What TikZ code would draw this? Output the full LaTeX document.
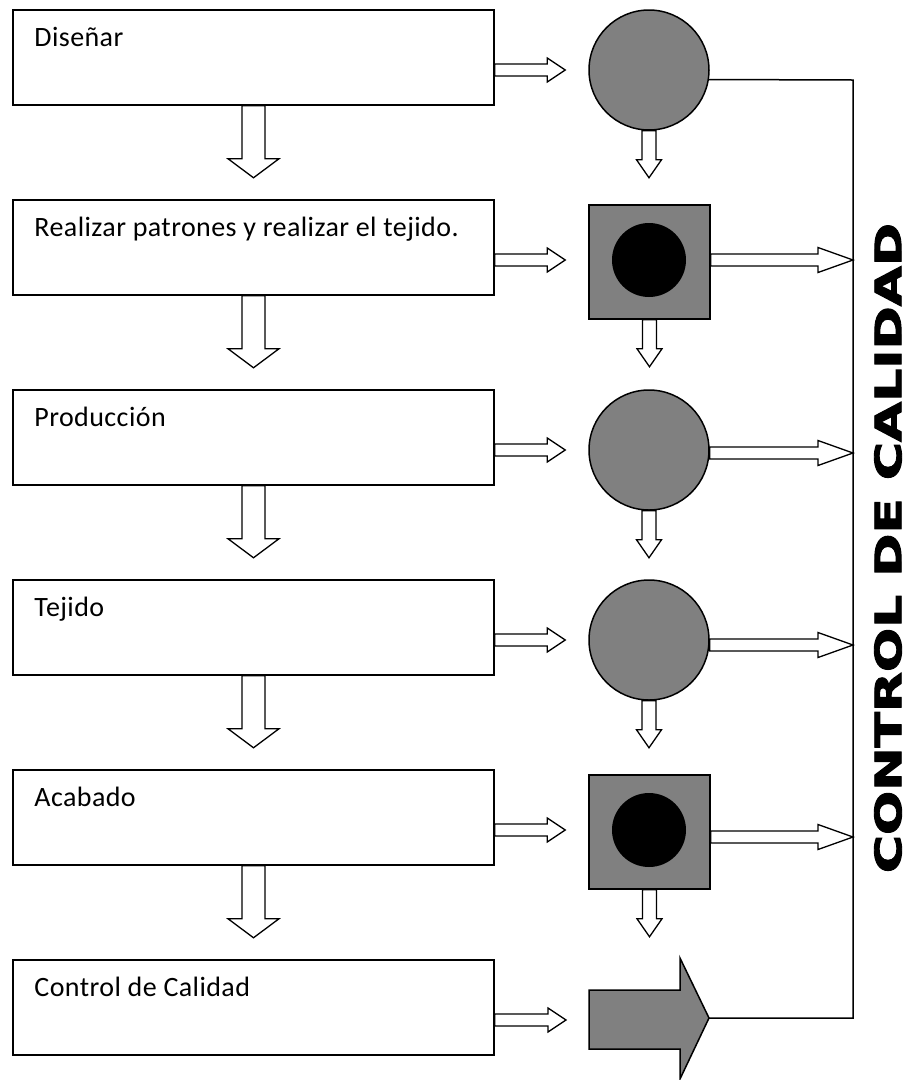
\documentclass[tikz,border=0pt]{standalone}
\usepackage{graphicx}
\usepackage{fontspec}
\setmainfont{Carlito}
\newfontfamily\boxfont[LetterSpace=1.5]{Carlito}
\newfontfamily\headfont[FakeBold=2.5]{DejaVu Sans Bold}
\usepackage{xcolor}
\definecolor{mygray}{RGB}{128,128,128}
\usetikzlibrary{calc}

% block arrows: #1 start, #2 tip, #3 half shaft, #4 half head, #5 head length
\newcommand{\hblock}[5]{%
  \draw[blk] let \p1=(#1), \p2=(#2) in
    ({\x1},{\y1+#3}) -- ({\x2-#5},{\y1+#3}) -- ({\x2-#5},{\y1+#4}) -- ({\x2},{\y1})
    -- ({\x2-#5},{\y1-#4}) -- ({\x2-#5},{\y1-#3}) -- ({\x1},{\y1-#3}) -- cycle;}
\newcommand{\vblock}[5]{%
  \draw[blk] let \p1=(#1), \p2=(#2) in
    ({\x1-#3},{\y1}) -- ({\x1-#3},{\y2+#5}) -- ({\x1-#4},{\y2+#5}) -- ({\x1},{\y2})
    -- ({\x1+#4},{\y2+#5}) -- ({\x1+#3},{\y2+#5}) -- ({\x1+#3},{\y1}) -- cycle;}

\begin{document}
\begin{tikzpicture}[x=1pt,y=-1pt,line join=miter]
	\tikzstyle{procbox}=[draw,line width=1.5pt,minimum width=481pt,minimum height=95pt,inner sep=0pt];
	\tikzstyle{proctext}=[anchor=base west,inner sep=0pt,font=\boxfont\fontsize{28}{33}\selectfont];
	\tikzstyle{dot}=[circle,draw,line width=1.5pt,fill=mygray,minimum size=120pt,inner sep=0pt];
	\tikzstyle{sq}=[draw,line width=1.5pt,fill=mygray,minimum width=121pt,minimum height=114pt,inner sep=0pt];
	\tikzstyle{core}=[circle,fill=black,minimum size=74pt,inner sep=0pt];
	\tikzstyle{blk}=[draw,fill=white,line width=1.3pt];
	\useasboundingbox (0,0) rectangle (909,1080);
	% process boxes
	\node[procbox] (b1) at (253.5,57.5)   {};
	\node[procbox] (b2) at (253.5,247.5)  {};
	\node[procbox] (b3) at (253.5,437.5)  {};
	\node[procbox] (b4) at (253.5,627.5)  {};
	\node[procbox] (b5) at (253.5,817.5)  {};
	\node[procbox] (b6) at (253.5,1007.5) {};
	\node[proctext] (t1) at ($(b1.north west)+(22,37)$) {Diseñar};
	\node[proctext] (t2) at ($(b2.north west)+(22,37)$) {Realizar patrones y realizar el tejido.};
	\node[proctext] (t3) at ($(b3.north west)+(22,37)$) {Producción};
	\node[proctext] (t4) at ($(b4.north west)+(22,37)$) {Tejido};
	\node[proctext] (t5) at ($(b5.north west)+(22,37)$) {Acabado};
	\node[proctext] (t6) at ($(b6.north west)+(22,37)$) {Control de Calidad};
	% symbols
	\node[dot]  (s1) at (649,70)    {};
	\node[sq]   (s2) at (649.5,262) {};
	\node[core] (c2) at (649,260)   {};
	\node[dot]  (s3) at (649,450)   {};
	\node[dot]  (s4) at (649,640)   {};
	\node[sq]   (s5) at (649.5,832) {};
	\node[core] (c5) at (649,830)   {};
	\coordinate (qtip) at (709,1018);
	\draw[line width=1.5pt,fill=mygray] (589,990) -- (680,990) -- (680,958) -- (qtip)
		-- (680,1079) -- (680,1049) -- (589,1049) -- cycle;
	% quality line
	\coordinate (qtop) at (853,80);
	\coordinate (qbot) at (853,1018);
	\coordinate (q2) at (853,260);
	\coordinate (q3) at (853,453);
	\coordinate (q4) at (853,645);
	\coordinate (q5) at (853,837);
	\draw[line width=1.5pt] (s1.-9.6) -- (qtop) -- (qbot) -- (qtip);
	\node[rotate=90,inner sep=0pt] (qc) at (888,548)
		{\resizebox{650pt}{27pt}{\headfont CONTROL DE CALIDAD}};
	% box to symbol
	\hblock{$(b1.east)+(0,12.5)$}{$(s1.west)+(-23,0)$}{6pt}{12pt}{18pt}
	\hblock{$(b2.east)+(0,12.5)$}{$(s2.west)+(-23,0)$}{6pt}{12pt}{18pt}
	\hblock{$(b3.east)+(0,12.5)$}{$(s3.west)+(-23,0)$}{6pt}{12pt}{18pt}
	\hblock{$(b4.east)+(0,12.5)$}{$(s4.west)+(-23,0)$}{6pt}{12pt}{18pt}
	\hblock{$(b5.east)+(0,12.5)$}{$(s5.west)+(-23,0)$}{6pt}{12pt}{18pt}
	\hblock{$(b6.east)+(0,12.5)$}{$(qtip)+(-143,0)$}{6pt}{12pt}{18pt}
	% box to box
	\vblock{b1.south}{$(b1.south)+(0,72)$}{11.5pt}{25.5pt}{19pt}
	\vblock{b2.south}{$(b2.south)+(0,72)$}{11.5pt}{25.5pt}{19pt}
	\vblock{b3.south}{$(b3.south)+(0,72)$}{11.5pt}{25.5pt}{19pt}
	\vblock{b4.south}{$(b4.south)+(0,72)$}{11.5pt}{25.5pt}{19pt}
	\vblock{b5.south}{$(b5.south)+(0,72)$}{11.5pt}{25.5pt}{19pt}
	% symbol to symbol
	\vblock{s1.south}{$(s1.south)+(0,47)$}{7pt}{12.5pt}{18pt}
	\vblock{s2.south}{$(s2.south)+(0,47)$}{7pt}{12.5pt}{18pt}
	\vblock{s3.south}{$(s3.south)+(0,47)$}{7pt}{12.5pt}{18pt}
	\vblock{s4.south}{$(s4.south)+(0,47)$}{7pt}{12.5pt}{18pt}
	\vblock{s5.south}{$(s5.south)+(0,47)$}{7pt}{12.5pt}{18pt}
	% symbol to quality line
	\hblock{$(s2.east)+(0,-2)$}{q2}{6pt}{12.5pt}{35pt}
	\hblock{$(s3.east)+(0,3)$}{q3}{6pt}{12.5pt}{35pt}
	\hblock{$(s4.east)+(0,5)$}{q4}{6pt}{12.5pt}{35pt}
	\hblock{$(s5.east)+(0,5)$}{q5}{6pt}{12.5pt}{35pt}
\end{tikzpicture}
\end{document}
